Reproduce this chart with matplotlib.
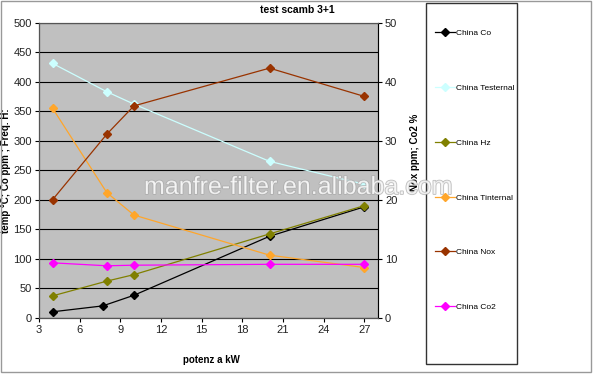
import matplotlib.pyplot as plt
import matplotlib.patheffects as pe
from matplotlib.patches import Rectangle

plt.rcParams['font.family'] = ['Liberation Sans', 'DejaVu Sans']
plt.rcParams['font.size'] = 8

# data
power = [4, 8, 10, 20, 27]
power_co = [4, 7.7, 10, 20, 27]
co = [10, 20, 38, 138, 188]
t_external = [431, 383, 362, 265, 226]
hz = [37, 62, 73, 142, 190]
t_internal = [355, 212, 174, 106, 85]
nox = [20, 31.1, 35.9, 42.3, 37.5]
co2 = [9.3, 8.8, 8.9, 9.05, 9.05]

fig = plt.figure(figsize=(5.93, 3.77), dpi=100)
ax = fig.add_axes([39/593, 1-317.7/377, 339/593, 295/377])
ax.set_facecolor('#c0c0c0')
ax2 = ax.twinx()

ms = 4.5
l1, = ax.plot(power_co, co, color='black', marker='D', ms=ms, lw=0.9, label='China Co')
l2, = ax.plot(power, t_external, color='#ccffff', marker='D', ms=ms, lw=0.9, label='China Testernal')
l3, = ax.plot(power, hz, color='#808000', marker='D', ms=ms, lw=0.9, label='China Hz')
l4, = ax.plot(power, t_internal, color='#ffa62b', marker='D', ms=ms, lw=0.9, label='China Tinternal')
l5, = ax2.plot(power, nox, color='#993300', marker='D', ms=ms, lw=0.9, label='China Nox')
l6, = ax2.plot(power, co2, color='#ff00ff', marker='D', ms=ms, lw=0.9, label='China Co2')

ax.set_xlim(3, 28)
ax.set_ylim(0, 500)
ax2.set_ylim(0, 50)
ax.set_xticks(range(3, 28, 3))
ax.set_yticks(range(0, 501, 50))
ax2.set_yticks(range(0, 51, 10))
ax.yaxis.grid(True, color='black', lw=0.8)
ax.set_axisbelow(True)
for a in (ax, ax2):
    a.tick_params(labelsize=8, length=3, width=0.8, pad=2, color='black', labelcolor='#222222')
    for s in a.spines.values():
        s.set_color('#555555')
ax.spines['left'].set_color('black')
ax.spines['bottom'].set_color('black')
ax2.spines['right'].set_color('black')

ax.set_ylabel('temp °C; Co ppm ; Freq. H:', fontsize=7, fontweight='bold')
ax.yaxis.set_label_coords(-0.084, 0.5)
ax2.set_ylabel('Nox ppm; Co2 %', fontsize=7, fontweight='bold')
ax2.yaxis.set_label_coords(1.093, 0.56)
ax.set_xlabel('potenz a kW', fontsize=7, fontweight='bold')
ax.xaxis.set_label_coords(0.51, -0.125)
fig.text(297/593, 1-10/377, 'test scamb 3+1', fontsize=7.5, fontweight='bold',
         ha='center', va='center')

# watermark
fig.text(298/593, 1-187/377, 'manfre-filter.en.alibaba.com', fontsize=18,
         color='white', alpha=0.75, ha='center', va='center',
         path_effects=[pe.withStroke(linewidth=1.2, foreground='#a8a8a8')])

# legend
fig.add_artist(Rectangle((425.7/593, 1-363.7/377), 91.6/593, 360.7/377,
                         transform=fig.transFigure, fill=False, edgecolor='#333333', lw=1))
fig.legend(handles=[l1, l2, l3, l4, l5, l6], loc='upper left',
           bbox_to_anchor=(427/593, 1-22/377), frameon=False, fontsize=6,
           labelspacing=5.63, handlelength=2.4, handletextpad=0.2, markerscale=0.8)

# chart border
fig.add_artist(Rectangle((0.002, 5/377), 0.994, 1-6/377, transform=fig.transFigure,
                         fill=False, edgecolor='#999999', lw=1))

fig.savefig('out.png', dpi=100)
